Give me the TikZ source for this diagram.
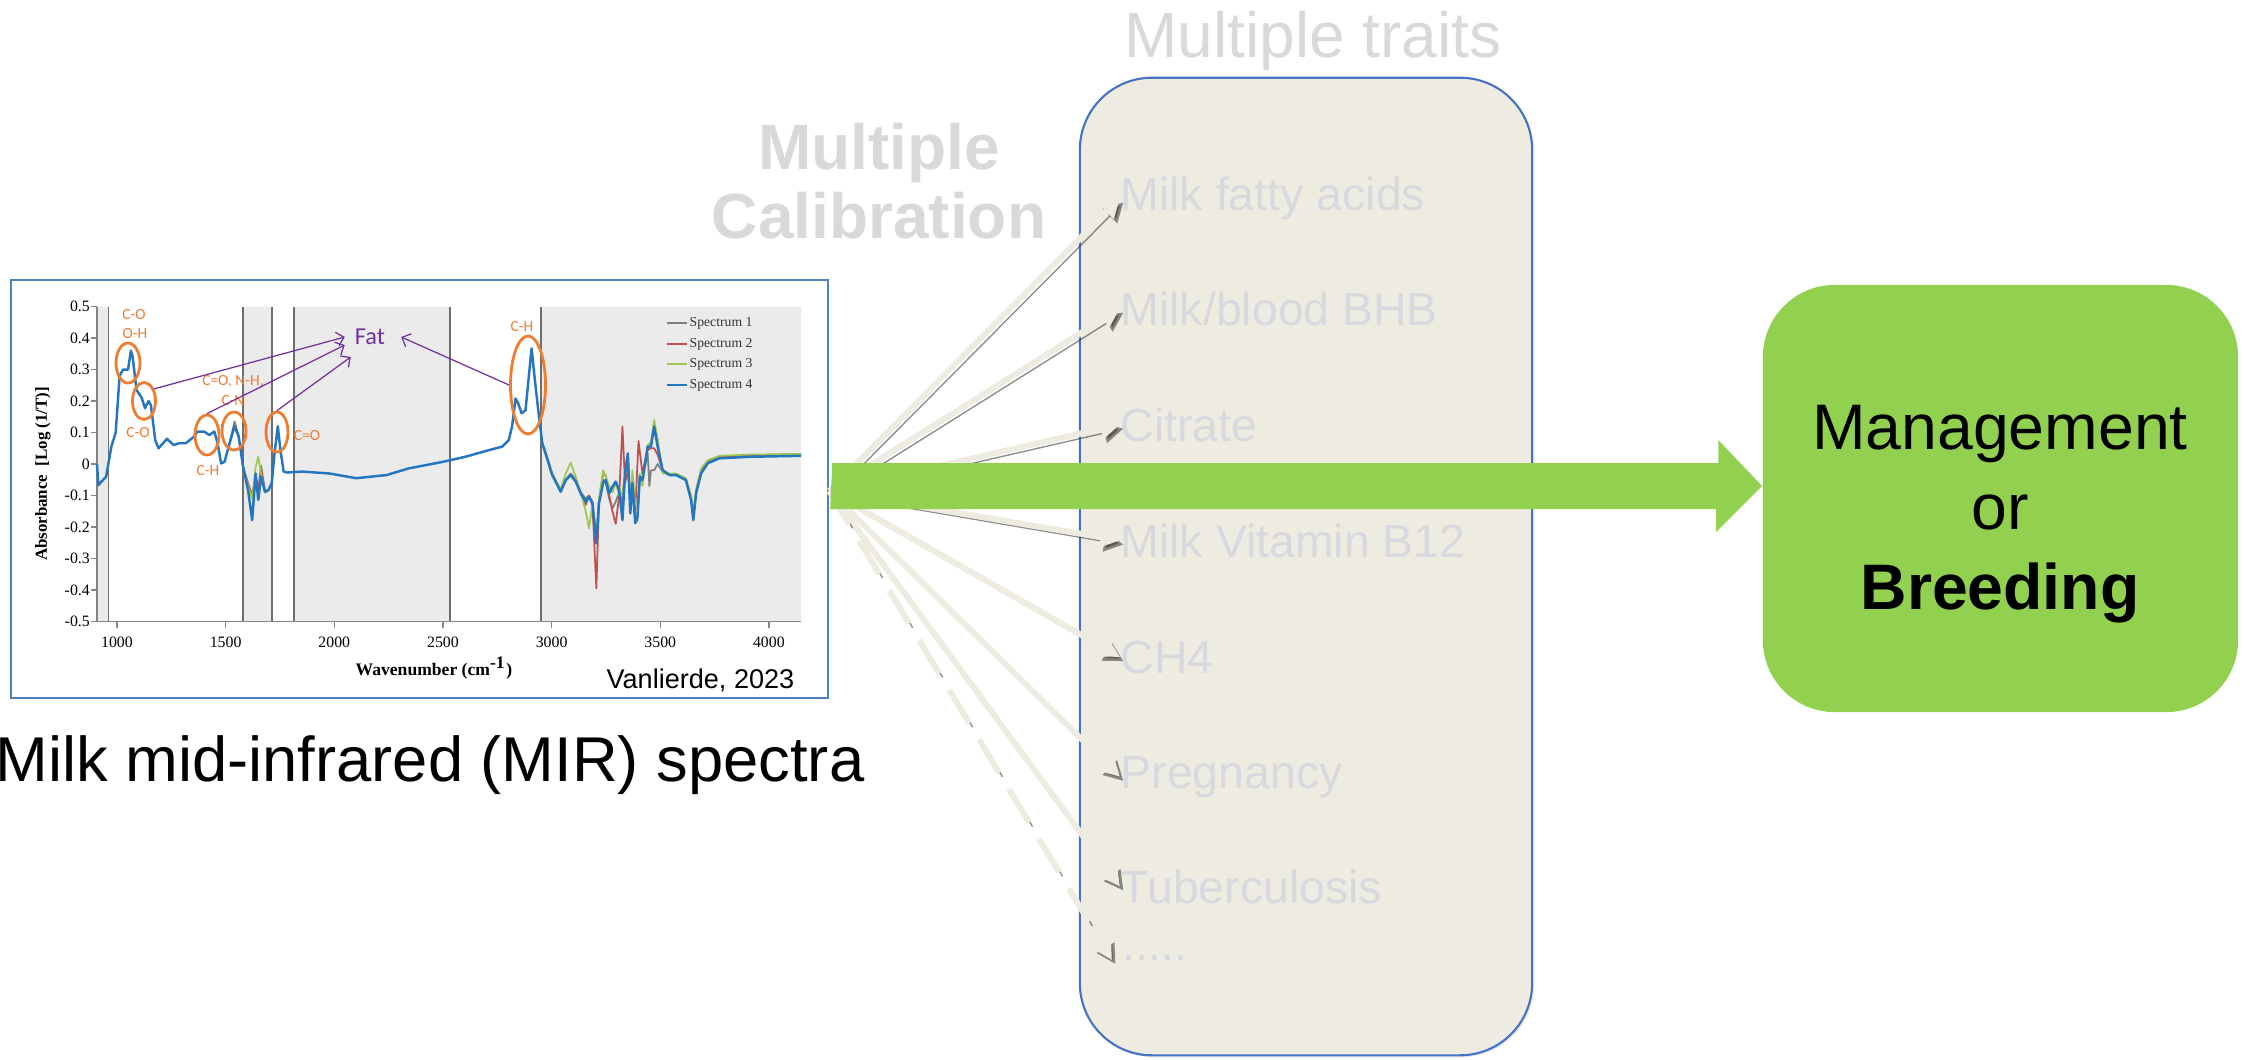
\documentclass[tikz,border=0pt]{standalone}
\usepackage{fontspec}
\setmainfont{Liberation Sans}
\newfontfamily\timesfont{Liberation Serif}
\newfontfamily\califont{Carlito}
\usetikzlibrary{arrows.meta,calc,shapes.geometric,shadows}

\definecolor{traitfill}{RGB}{238,236,225}
\definecolor{traitline}{RGB}{68,114,196}
\definecolor{traittext}{RGB}{216,217,222}
\definecolor{calibgray}{RGB}{217,217,217}
\definecolor{mirgreen}{RGB}{146,208,80}
\definecolor{framebl}{RGB}{79,129,189}
\definecolor{bandgray}{RGB}{235,235,235}
\definecolor{gridgray}{RGB}{110,110,110}
\definecolor{axisgray}{RGB}{134,134,134}
\definecolor{peakor}{RGB}{237,125,49}
\definecolor{fatpur}{RGB}{112,48,160}
\definecolor{sponecol}{RGB}{128,128,128}
\definecolor{sptwocol}{RGB}{192,80,77}
\definecolor{spthreecol}{RGB}{155,200,80}
\definecolor{spfourcol}{RGB}{36,118,192}

\tikzset{
  traitlbl/.style={anchor=base west,inner sep=0pt,text=traittext,font=\fontsize{13.2}{15}\selectfont},
  fanarrow/.style={draw=traitfill,line width=1.7pt,-{Triangle[length=5.5pt,width=5.5pt]},
    preaction={draw=black!80,opacity=0.55,transform canvas={shift={(1pt,-1.2pt)}}}},
  fandash/.style={draw=traitfill,line width=1.7pt,dash pattern=on 11pt off 5.5pt,-{Triangle[length=5.5pt,width=5.5pt]},
    preaction={draw=black!80,opacity=0.55,dash pattern=on 11pt off 5.5pt,transform canvas={shift={(1pt,-1.2pt)}}}},
  peak/.style={ellipse,draw=peakor,line width=0.8pt,inner sep=0pt},
  peaklbl/.style={text=peakor,inner sep=0pt,font=\califont\fontsize{4.4}{5}\selectfont},
  fatarrow/.style={draw=fatpur,line width=0.35pt,-{Straight Barb[length=2pt,width=4pt]}},
  ticklbl/.style={inner sep=0pt,font=\timesfont\fontsize{4.5}{5}\selectfont},
  leglbl/.style={anchor=west,inner sep=0.5pt,text=black!80,font=\timesfont\fontsize{3.9}{4.5}\selectfont},
  spline/.style={line width=0.5pt,line join=round},
}

\begin{document}
\begin{tikzpicture}[x=0.01cm,y=-0.01cm]
\useasboundingbox (0,0) rectangle (2244,1059);
%titles
\node[anchor=base,text=calibgray,font=\fontsize{18.2}{19.6}\selectfont] (traits) at (1313,57) {Multiple traits};
\node[align=center,text=calibgray,font=\bfseries\fontsize{18.2}{19.6}\selectfont] (calib) at (879,181) {Multiple\\Calibration};
%traits box
\node[draw=traitline,fill=traitfill,line width=0.6pt,rounded corners=0.72cm,minimum width=4.52cm,minimum height=9.77cm,
  drop shadow={opacity=0.15,shadow xshift=0.6pt,shadow yshift=-0.6pt}] (box) at (1306,566.5) {};
\node[traitlbl] (fa) at (1120,210) {Milk fatty acids};
\node[traitlbl] (bhb) at (1120,325) {Milk/blood BHB};
\node[traitlbl] (cit) at (1120,441) {Citrate};
\node[traitlbl] (b12) at (1120,557) {Milk Vitamin B12};
\node[traitlbl] (ch4) at (1120,673) {CH4};
\node[traitlbl] (preg) at (1120,788) {Pregnancy};
\node[traitlbl] (tb) at (1120,903) {Tuberculosis};
\node[traitlbl] (more) at (1122,960) {.....};
%management box
\node[fill=mirgreen,rounded corners=0.72cm,minimum width=4.75cm,minimum height=4.27cm] (mgmt) at (2000.5,498.5) {};
\node[align=center,font=\fontsize{18.3}{22.8}\selectfont] (mgmttxt) at (2000,514) {Management\\or\\\textbf{Breeding}};
%spectrum
\node[draw=framebl,line width=0.6pt,fill=white,minimum width=8.17cm,minimum height=4.18cm,inner sep=0pt] (spec) at (419.5,489) {};
\begin{scope}[shift={(-100.3,464)},xscale=0.2173,yscale=-315]
%bands
\fill[bandgray] (908,-0.5) rectangle (961,0.5) (1580,-0.5) rectangle (1712,0.5)
  (1815,-0.5) rectangle (2534,0.5) (2952,-0.5) rectangle (4148,0.5);
\draw[gridgray,line width=0.5pt] (961,-0.5) -- (961,0.5) (1580,-0.5) -- (1580,0.5) (1712,-0.5) -- (1712,0.5)
  (1815,-0.5) -- (1815,0.5) (2534,-0.5) -- (2534,0.5) (2952,-0.5) -- (2952,0.5);
%axes
\draw[axisgray,line width=0.4pt] (908,0.5) -- (908,-0.5) -- (4148,-0.5);
\foreach \a in {0.5,0.4,0.3,0.2,0.1,0,-0.1,-0.2,-0.3,-0.4,-0.5}{
  \draw[axisgray,line width=0.4pt] (908,\a) -- ++(-27.6,0);
  \node[ticklbl,anchor=east] (ya\a) at (878,\a) {\a};}
\foreach \w in {1000,1500,...,4000}{
  \draw[axisgray,line width=0.4pt] (\w,-0.5) -- ++(0,-0.019);
  \node[ticklbl] (xa\w) at (\w,-0.565) {\w};}
%spectrum 1
\draw[sponecol,spline] (1518,0.066) -- (1541,0.135) -- (1560,0.09) -- (1580,-0.008) -- (1603,-0.075) -- (1622,-0.1)
  -- (1638,-0.04) -- (1650,-0.08) -- (1663,-0.005) -- (1681,-0.085) -- (1697,-0.083) -- (1712,-0.061);
\draw[sponecol,spline] (2957,0.066) -- (2972,0.034) -- (3003,-0.035) -- (3042,-0.085) -- (3065,-0.05) -- (3088,-0.03)
  -- (3111,-0.05) -- (3134,-0.09) -- (3157,-0.11) -- (3172,-0.1) -- (3188,-0.12) -- (3206,-0.24) -- (3218,-0.12)
  -- (3237,-0.05) -- (3249,-0.06) -- (3265,-0.11) -- (3280,-0.14) -- (3295,-0.12) -- (3311,-0.09) -- (3326,-0.12)
  -- (3338,-0.03) -- (3351,0) -- (3362,-0.12) -- (3372,-0.06) -- (3385,-0.17) -- (3395,-0.18) -- (3406,-0.04)
  -- (3418,-0.05) -- (3442,0.035) -- (3450,-0.07) -- (3457,-0.02) -- (3472,-0.02) -- (3488,0) -- (3511,-0.025)
  -- (3542,-0.035) -- (3572,-0.035) -- (3618,-0.05) -- (3642,-0.112) -- (3652,-0.172) -- (3665,-0.09) -- (3688,-0.025)
  -- (3718,0.006) -- (3772,0.022) -- (3911,0.027) -- (4148,0.03);
%spectrum 2
\draw[sptwocol,spline] (1580,-0.008) -- (1603,-0.06) -- (1622,-0.1) -- (1638,-0.05) -- (1650,-0.095) -- (1663,-0.015)
  -- (1681,-0.09) -- (1697,-0.083);
\draw[sptwocol,spline] (2957,0.066) -- (2972,0.036) -- (3003,-0.033) -- (3042,-0.085) -- (3065,-0.05) -- (3088,-0.035)
  -- (3111,-0.055) -- (3134,-0.09) -- (3157,-0.13) -- (3172,-0.1) -- (3188,-0.13) -- (3206,-0.395) -- (3218,-0.12)
  -- (3237,-0.03) -- (3249,-0.035) -- (3265,-0.1) -- (3280,-0.15) -- (3295,-0.19) -- (3311,-0.1) -- (3326,0.119)
  -- (3338,-0.06) -- (3351,-0.02) -- (3362,-0.11) -- (3372,-0.09) -- (3385,-0.15) -- (3400,0.073) -- (3418,-0.03)
  -- (3442,0.045) -- (3457,0.05) -- (3472,0.05) -- (3488,0.03) -- (3511,-0.02) -- (3542,-0.033) -- (3572,-0.033)
  -- (3618,-0.048) -- (3642,-0.11) -- (3652,-0.17) -- (3665,-0.085) -- (3688,-0.02) -- (3718,0.01) -- (3772,0.024)
  -- (3911,0.028) -- (4148,0.031);
%spectrum 3
\draw[spthreecol,spline] (1580,-0.008) -- (1603,-0.07) -- (1622,-0.11) -- (1638,-0.01) -- (1650,0.023) -- (1663,-0.03)
  -- (1681,-0.09) -- (1697,-0.085);
\draw[spthreecol,spline] (2957,0.066) -- (2972,0.04) -- (3003,-0.03) -- (3042,-0.08) -- (3065,-0.03) -- (3088,0.004)
  -- (3111,-0.04) -- (3134,-0.09) -- (3157,-0.15) -- (3172,-0.204) -- (3188,-0.13) -- (3206,-0.23) -- (3218,-0.11)
  -- (3237,-0.02) -- (3249,-0.04) -- (3265,-0.07) -- (3280,-0.09) -- (3295,-0.06) -- (3311,-0.1) -- (3326,-0.09)
  -- (3338,-0.03) -- (3351,0.02) -- (3362,-0.12) -- (3372,-0.02) -- (3385,-0.13) -- (3395,-0.12) -- (3406,-0.03)
  -- (3418,-0.07) -- (3442,0.06) -- (3457,0.07) -- (3472,0.14) -- (3488,0.08) -- (3511,-0.03) -- (3542,-0.03)
  -- (3572,-0.03) -- (3618,-0.045) -- (3642,-0.1) -- (3652,-0.165) -- (3665,-0.08) -- (3688,-0.015) -- (3718,0.012)
  -- (3772,0.026) -- (3911,0.03) -- (4148,0.032);
%spectrum 4
\draw[spfourcol,spline,line width=0.7pt] (908,0) -- (914,-0.067) -- (950,-0.04) -- (974,0.055) -- (994,0.1)
  -- (1012,0.28) -- (1028,0.3) -- (1051,0.3) -- (1064,0.36) -- (1072,0.34) -- (1090,0.235) -- (1114,0.21)
  -- (1129,0.177) -- (1145,0.2) -- (1156,0.187) -- (1176,0.076) -- (1191,0.05) -- (1230,0.08) -- (1261,0.06)
  -- (1285,0.066) -- (1316,0.066) -- (1355,0.087) -- (1370,0.103) -- (1401,0.103) -- (1425,0.092) -- (1448,0.103)
  -- (1463,0.066) -- (1479,0.002) -- (1495,0.007) -- (1518,0.066) -- (1541,0.12) -- (1560,0.087) -- (1580,-0.008)
  -- (1603,-0.083) -- (1622,-0.178) -- (1638,-0.03) -- (1650,-0.114) -- (1663,-0.04) -- (1681,-0.088) -- (1697,-0.083)
  -- (1712,-0.061) -- (1725,0.034) -- (1740,0.12) -- (1752,0.044) -- (1767,-0.024) -- (1782,-0.027) -- (1852,-0.024)
  -- (1977,-0.03) -- (2101,-0.045) -- (2241,-0.035) -- (2342,-0.014) -- (2500,0.007) -- (2603,0.023) -- (2711,0.044)
  -- (2772,0.055) -- (2803,0.076) -- (2818,0.119) -- (2834,0.208) -- (2846,0.193) -- (2862,0.161) -- (2880,0.171)
  -- (2895,0.277) -- (2908,0.367) -- (2923,0.267) -- (2942,0.15) -- (2957,0.066) -- (2972,0.034) -- (3003,-0.035)
  -- (3042,-0.088) -- (3065,-0.051) -- (3088,-0.035) -- (3111,-0.056) -- (3134,-0.093) -- (3157,-0.12) -- (3172,-0.104)
  -- (3188,-0.125) -- (3206,-0.252) -- (3218,-0.125) -- (3237,-0.061) -- (3249,-0.051) -- (3265,-0.093) -- (3280,-0.072)
  -- (3295,-0.056) -- (3311,-0.083) -- (3326,-0.178) -- (3338,-0.03) -- (3351,0.034) -- (3362,-0.157) -- (3372,-0.061)
  -- (3385,-0.188) -- (3395,-0.167) -- (3406,-0.04) -- (3418,-0.051) -- (3442,0.055) -- (3457,0.055) -- (3472,0.119)
  -- (3488,0.055) -- (3511,-0.019) -- (3542,-0.035) -- (3572,-0.035) -- (3618,-0.051) -- (3642,-0.114) -- (3652,-0.178)
  -- (3665,-0.093) -- (3688,-0.03) -- (3718,0.002) -- (3772,0.018) -- (3911,0.023) -- (4148,0.026);
\end{scope}
%axis titles
\node[rotate=90,font=\timesfont\bfseries\fontsize{4.8}{6}\selectfont] (ylab) at (43,474) {Absorbance\ \ [Log (1/T)]};
\node[font=\timesfont\bfseries\fontsize{5}{6}\selectfont] (xlab) at (434,668) {Wavenumber (cm\textsuperscript{-1})};
%peaks
\node[peak,minimum width=0.24cm,minimum height=0.4cm] (coh) at (128,363) {};
\node[peak,minimum width=0.23cm,minimum height=0.37cm] (co) at (144,401) {};
\node[peak,minimum width=0.24cm,minimum height=0.4cm] (chl) at (207,435) {};
\node[peak,minimum width=0.24cm,minimum height=0.38cm] (cn) at (234,431) {};
\node[peak,minimum width=0.22cm,minimum height=0.4cm] (cdo) at (277,432) {};
\node[peak,minimum width=0.35cm,minimum height=0.98cm] (chr) at (528,385) {};
\node[peaklbl] (lco) at (134,315) {C-O};
\node[peaklbl] (loh) at (135,334) {O-H};
\node[peaklbl] (lco2) at (138,433) {C-O};
\node[peaklbl] (lch) at (208,471) {C-H};
\node[peaklbl] (lcn) at (233,381) {C=O, N-H,};
\node[peaklbl] (lcn2) at (233,401) {C-N};
\node[peaklbl] (lcdo) at (307,436) {C=O};
\node[peaklbl] (lchr) at (522,327) {C-H};
\node[text=fatpur,inner sep=1pt,font=\califont\fontsize{6.9}{8}\selectfont] (fat) at (370,337) {Fat};
\draw[fatarrow] (co.50) -- ($(fat.west)+(-6,0)$);
\draw[fatarrow] (chl.north) -- ($(fat.west)+(-6,8)$);
\draw[fatarrow] (cdo.north) -- ($(fat.west)+(0,20)$);
\draw[fatarrow] (chr.west) -- ($(fat.east)+(12,0)$);
%legend
\draw[sponecol,line width=0.5pt] (667,323) -- (687,323) node[leglbl] (lg1) {Spectrum 1};
\draw[sptwocol,line width=0.5pt] (667,344) -- (687,344) node[leglbl] (lg2) {Spectrum 2};
\draw[spthreecol,line width=0.5pt] (667,364) -- (687,364) node[leglbl] (lg3) {Spectrum 3};
\draw[spfourcol,line width=0.5pt] (667,385) -- (687,385) node[leglbl] (lg4) {Spectrum 4};
\node[anchor=base east,inner sep=0pt,font=\fontsize{7.7}{9}\selectfont] (ref) at (795,688) {Vanlierde, 2023};
\node[anchor=base,font=\fontsize{18}{21}\selectfont] (mir) at (430,781) {Milk mid-infrared (MIR) spectra};
%calibration arrows
\coordinate (fan) at ($(spec.east)+(0,2)$);
\draw[fanarrow] (fan) -- (fa.west);
\draw[fanarrow] (fan) -- (bhb.west);
\draw[fanarrow] (fan) -- (cit.west);
\draw[fanarrow] (fan) -- (b12.west);
\draw[fanarrow] (fan) -- (ch4.west);
\draw[fanarrow] (fan) -- (preg.west);
\draw[fanarrow] (fan) -- (tb.west);
\draw[fandash] (fan) -- ($(more.base west)+(-10,0)$);
%main arrow
\coordinate (tail) at ($(spec.east)+(3,-3)$);
\fill[mirgreen] ($(tail)+(0,-23)$) -- ++(886,0) -- ++(0,-23) -- (mgmt.west |- tail) -- ++(-46,46) -- ++(0,-23)
  -- ++(-886,0) -- cycle;
\end{tikzpicture}
\end{document}
